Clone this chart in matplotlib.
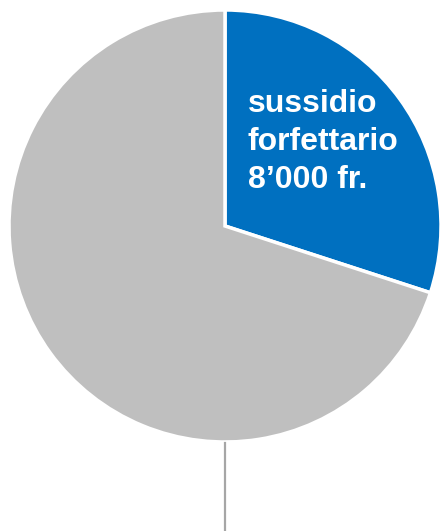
import matplotlib.pyplot as plt

# Slice data
labels = ['sussidio\nforfettario\n8’000 fr.', '']
shares = [30, 70]
colors = ['#0070C0', '#BFBFBF']
explode = [0.025, 0]

W, H = 442, 531
fig = plt.figure(figsize=(W / 100, H / 100), dpi=100)
ax = fig.add_axes([0, 0, 1, 1])

cx, cy, r = 225, H - 226, 216

ax.pie(shares, colors=colors, explode=explode, startangle=90, counterclock=False,
       center=(cx, cy), radius=r, frame=True,
       wedgeprops=dict(edgecolor='white', linewidth=2.5))
ax.set_xlim(0, W)
ax.set_ylim(0, H)
ax.set_aspect('equal')
ax.axis('off')

# Label inside the blue slice
ax.text(248, H - 142, labels[0], color='white', fontsize=23, fontweight='bold',
        family='Liberation Sans', ha='left', va='center', linespacing=1.34)

# Leader line below the pie
ax.plot([cx, cx], [0, cy - r - 1], color='#A6A6A6', linewidth=1.6)

plt.savefig('out.png', dpi=100)
